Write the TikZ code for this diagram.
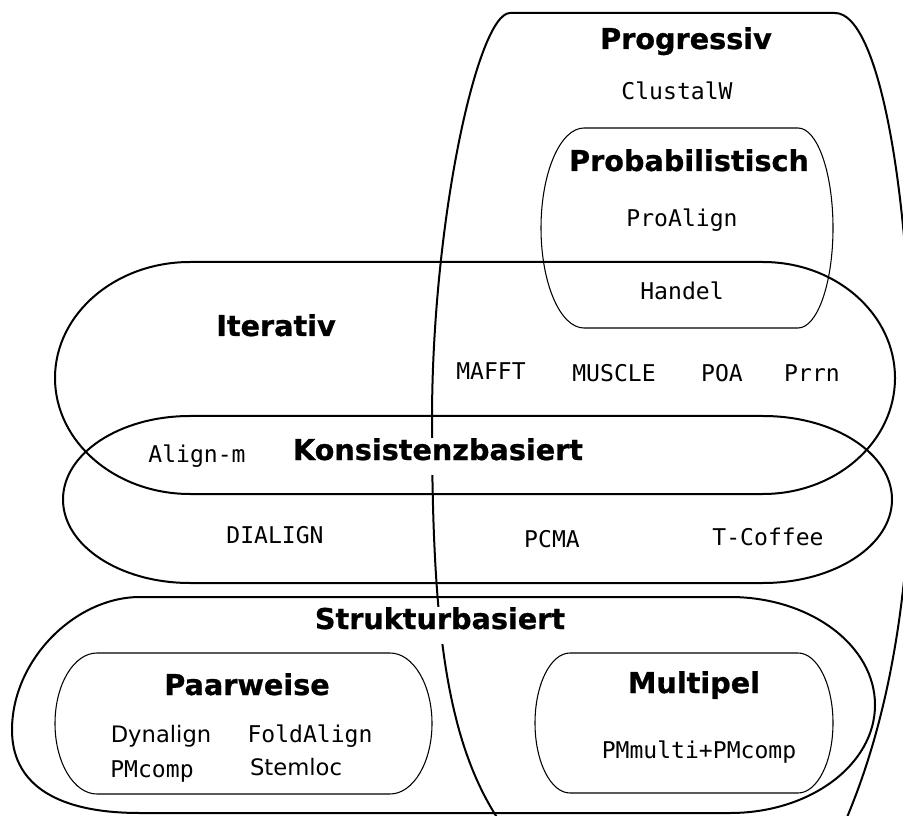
\documentclass[tikz,border=0pt]{standalone}
\usepackage{fontspec}
\setmainfont{DejaVu Sans}[BoldFeatures={FakeBold=0.8}]
\setmonofont{DejaVu Sans Mono}
\usepackage{tikz}

\tikzstyle{grouplabel}=[font=\fontsize{21.5}{26}\selectfont\bfseries, anchor=base, inner sep=0pt]
\tikzstyle{toolnode}=[font=\fontsize{17.3}{21}\selectfont\ttfamily, anchor=base, inner sep=0pt]
\tikzstyle{sanstool}=[font=\fontsize{17}{21}\selectfont, anchor=base, inner sep=0pt]
\tikzstyle{cover}=[fill=white, text height=.75em, text depth=.25em, inner sep=9pt]
\tikzstyle{outerset}=[draw, line width=1.5pt]
\tikzstyle{innerset}=[draw, line width=0.8pt]
\newcommand{\grouplabel}{\node[grouplabel]}
\newcommand{\toolnode}{\node[toolnode]}

\begin{document}
\begin{tikzpicture}[x=0.75pt, y=-0.75pt]

            \useasboundingbox (0,0) rectangle (903,816);
            \clip (0,0) rectangle (903,816);

            % Progressiv, drawn first so the labels below can cut it
            \path[outerset]
                (500,822) .. controls (445,740) and (432,620) .. (432,420)
                .. controls (432,220) and (478,13) .. (510,13)
                -- (835,13)
                .. controls (880,13) and (912,200) .. (912,420)
                .. controls (912,620) and (880,740) .. (845,822);

            \grouplabel[cover] (konsistenz) at (438,460) {Konsistenzbasiert};
            \grouplabel[cover] (struktur) at (440,629) {Strukturbasiert};

            % Iterativ
            \path[outerset] (190,262) -- (763,262)
                arc[start angle=-90, end angle=90, x radius=132, y radius=116]
                -- (190,494)
                arc[start angle=90, end angle=270, x radius=135, y radius=116] -- cycle;

            % Konsistenzbasiert
            \path[outerset] (190,416) -- (763,416)
                arc[start angle=-90, end angle=90, x radius=129, y radius=83.5]
                -- (190,583)
                arc[start angle=90, end angle=270, x radius=127, y radius=83.5] -- cycle;

            % Strukturbasiert
            \path[outerset] (140,597) -- (730,597)
                arc[start angle=-90, end angle=90, x radius=145, y radius=108]
                -- (140,813)
                .. controls (50,813) and (12,780) .. (12,730)
                .. controls (12,660) and (75,597) .. (140,597) -- cycle;

            % Probabilistisch
            \path[innerset] (584,128) -- (798,128)
                arc[start angle=-90, end angle=90, x radius=35, y radius=100]
                -- (584,328)
                arc[start angle=90, end angle=270, x radius=43, y radius=100] -- cycle;

            % Paarweise
            \path[innerset] (97,653) -- (390,653)
                arc[start angle=-90, end angle=90, x radius=42, y radius=70.5]
                -- (97,794)
                arc[start angle=90, end angle=270, x radius=42, y radius=70.5] -- cycle;

            % Multipel
            \path[innerset] (570,653) -- (798,653)
                arc[start angle=-90, end angle=90, x radius=35, y radius=70]
                -- (570,793)
                arc[start angle=90, end angle=270, x radius=35, y radius=70] -- cycle;

            \grouplabel (progressiv) at (686,49) {Progressiv};
            \grouplabel (probab) at (689,171) {Probabilistisch};
            \grouplabel (iterativ) at (276,336) {Iterativ};
            \grouplabel (paarweise) at (247,695) {Paarweise};
            \grouplabel (multipel) at (694,693) {Multipel};

            \toolnode (clustalw) at (677,100) {ClustalW};
            \toolnode (proalign) at (682,227) {ProAlign};
            \toolnode (handel) at (682,300) {Handel};
            \toolnode (mafft) at (491,380) {MAFFT};
            \toolnode (muscle) at (614,382) {MUSCLE};
            \toolnode (poa) at (722,382) {POA};
            \toolnode (prrn) at (812,382) {Prrn};
            \toolnode (alignm) at (197,462) {Align-m};
            \toolnode (dialign) at (275,543) {DIALIGN};
            \toolnode (pcma) at (552,547) {PCMA};
            \toolnode (tcoffee) at (768,545) {T-Coffee};
            \node[sanstool] (dynalign) at (161,742) {Dynalign};
            \toolnode (foldalign) at (310,742) {FoldAlign};
            \toolnode (pmcomp) at (152,777) {PMcomp};
            \node[sanstool] (stemloc) at (296,775) {Stemloc};
            \toolnode (pmmulti) at (699,758) {PMmulti+PMcomp};
        \end{tikzpicture}
\end{document}
